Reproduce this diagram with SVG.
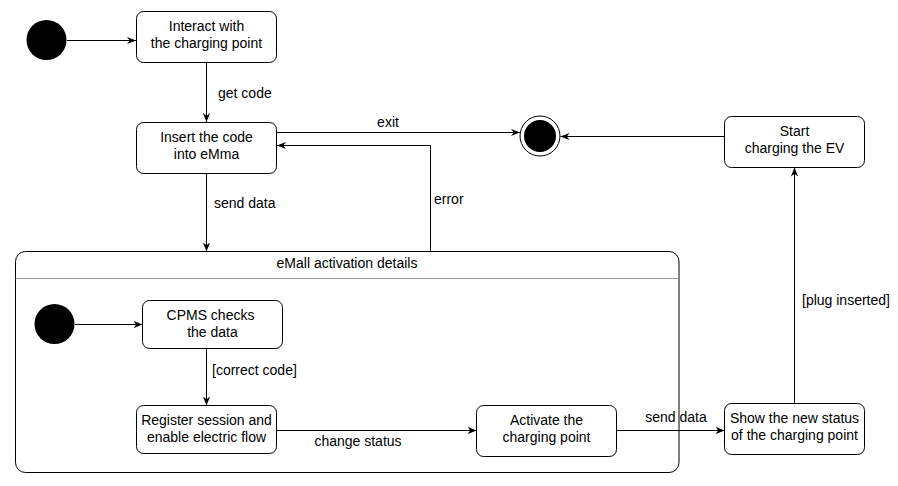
<svg xmlns="http://www.w3.org/2000/svg" width="898" height="486" viewBox="0 0 898 486">
<style>
.box{fill:#fff;stroke:#000;stroke-width:1}
.t{font-family:"Liberation Sans",Arial,sans-serif;font-size:14px;fill:#000}
.m{text-anchor:middle}
.e{fill:none;stroke:#000;stroke-width:1}
</style>
<defs>
<marker id="arr" markerUnits="userSpaceOnUse" markerWidth="9" markerHeight="9" viewBox="0 0 10 10" refX="10" refY="5" orient="auto">
<path d="M0,1 L10,5 L0,9 L3,5 z" fill="#000"/>
</marker>
</defs>
<rect width="898" height="486" fill="#fff"/>
<g id="container">
<rect x="15.5" y="251.5" width="663.5" height="221" rx="10" class="box"/>
<line x1="15.5" y1="278.5" x2="679" y2="278.5" stroke="#999" stroke-width="1"/>
<text class="t m" x="347" y="268">eMall activation details</text>
</g>
<g id="start1"><circle cx="46.5" cy="40" r="20" fill="#000"/></g>
<g id="interact">
<rect x="136.5" y="11.5" width="140" height="51" rx="7" class="box"/>
<text class="t m" x="206.5" y="31">Interact with</text>
<text class="t m" x="206.5" y="48">the charging point</text>
</g>
<g id="insert">
<rect x="136.5" y="122.5" width="140" height="51" rx="7" class="box"/>
<text class="t m" x="206.5" y="142">Insert the code</text>
<text class="t m" x="206.5" y="159">into eMma</text>
</g>
<g id="final">
<circle cx="540" cy="136" r="20" fill="#fff" stroke="#000" stroke-width="1"/>
<circle cx="540" cy="136" r="16" fill="#000"/>
</g>
<g id="startcharging">
<rect x="724.5" y="116.5" width="140" height="51" rx="7" class="box"/>
<text class="t m" x="794.5" y="136">Start</text>
<text class="t m" x="794.5" y="153">charging the EV</text>
</g>
<g id="start2"><circle cx="54.5" cy="324" r="20" fill="#000"/></g>
<g id="cpms">
<rect x="142.5" y="300.5" width="140" height="48" rx="7" class="box"/>
<text class="t m" x="210.5" y="320">CPMS checks</text>
<text class="t m" x="212.5" y="337">the data</text>
</g>
<g id="register">
<rect x="136.5" y="405.5" width="140" height="48" rx="7" class="box"/>
<text class="t m" x="206.5" y="425">Register session and</text>
<text class="t m" x="206.5" y="442">enable electric flow</text>
</g>
<g id="activate">
<rect x="476.5" y="405.5" width="140" height="51" rx="7" class="box"/>
<text class="t m" x="546.5" y="425">Activate the</text>
<text class="t m" x="546.5" y="442">charging point</text>
</g>
<g id="show">
<rect x="724.5" y="403.5" width="140" height="51" rx="7" class="box"/>
<text class="t m" x="794.5" y="423">Show the new status</text>
<text class="t m" x="794.5" y="440">of the charging point</text>
</g>
<g id="connectors">
<path class="e" d="M67,40.5 L136,40.5" marker-end="url(#arr)"/>
<path class="e" d="M206.5,62.5 L206.5,122" marker-end="url(#arr)"/>
<text class="t" x="218" y="98">get code</text>
<path class="e" d="M276.5,132.5 L520,132.5" marker-end="url(#arr)"/>
<text class="t m" x="388" y="127">exit</text>
<path class="e" d="M430.5,251.5 L430.5,145.5 L277,145.5" marker-end="url(#arr)"/>
<text class="t" x="434" y="204">error</text>
<path class="e" d="M724.5,136.5 L560.5,136.5" marker-end="url(#arr)"/>
<path class="e" d="M206.5,173.5 L206.5,251.5" marker-end="url(#arr)"/>
<text class="t" x="214" y="208">send data</text>
<path class="e" d="M75,324.5 L142.5,324.5" marker-end="url(#arr)"/>
<path class="e" d="M206.5,348.5 L206.5,405.5" marker-end="url(#arr)"/>
<text class="t" x="212" y="375">[correct code]</text>
<path class="e" d="M276.5,430.5 L476.5,430.5" marker-end="url(#arr)"/>
<text class="t m" x="358" y="446">change status</text>
<path class="e" d="M616.5,430.5 L724.5,430.5" marker-end="url(#arr)"/>
<text class="t m" x="676" y="422">send data</text>
<path class="e" d="M794.5,403.5 L794.5,167.5" marker-end="url(#arr)"/>
<text class="t" x="802" y="305">[plug inserted]</text>
</g>
</svg>
